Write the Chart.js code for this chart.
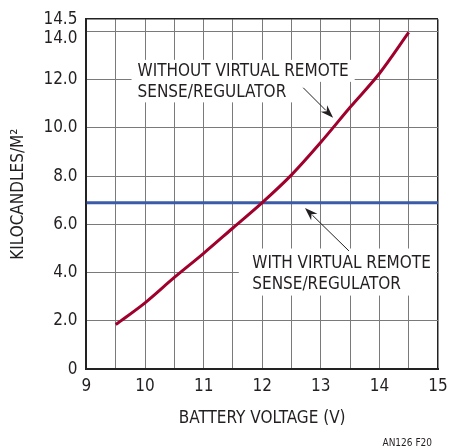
<!DOCTYPE html>
<html>
<head>
<meta charset="utf-8">
<script src="https://cdn.jsdelivr.net/npm/chart.js@4.4.1/dist/chart.umd.min.js"></script>
<style>
html,body{margin:0;padding:0;background:#fff;}
#wrap{width:450px;height:448px;position:relative;}
</style>
</head>
<body>
<div id="wrap"><canvas id="c" width="450" height="448"></canvas></div>
<script>
// ---- data ----
const voltage = [9.5, 10, 10.5, 11, 11.5, 12, 12.5, 13, 13.5, 14, 14.5];
const withoutRegulator = [1.85, 2.75, 3.8, 4.8, 5.85, 6.9, 8.05, 9.4, 10.85, 12.25, 13.95];
const regulatedVoltage = [9, 15];
const withRegulator = [6.9, 6.9];
const yTicks = [0, 2, 4, 6, 8, 10, 12, 14, 14.5];
const xTicks = [9, 10, 11, 12, 13, 14, 15];

const FONT = '"Liberation Sans Narrow", "DejaVu Sans Condensed", "Liberation Sans", sans-serif';
const FS = 17;
const TXT = '#231f20';

const annotations = [
  { lines: ['WITHOUT VIRTUAL REMOTE', 'SENSE/REGULATOR'], x: 9.872, y: [12.36, 11.51],
    arrow: { from: [12.70, 11.66], to: [13.21, 10.42] } },
  { lines: ['WITH VIRTUAL REMOTE', 'SENSE/REGULATOR'], x: 11.83, y: [4.42, 3.55],
    box: [11.6, 15, 5.0, 3.05],
    arrow: { from: [13.48, 4.9], to: [12.73, 6.68] } }
];

const annotPlugin = {
  id: 'annot',
  beforeDatasetsDraw(chart) {
    const ctx = chart.ctx, xs = chart.scales.x, ys = chart.scales.y;
    ctx.save();
    ctx.font = FS + 'px ' + FONT;
    ctx.textBaseline = 'middle';
    annotations.forEach(a => {
      const x0 = xs.getPixelForValue(a.x);
      ctx.fillStyle = '#fff';
      if (a.box) {
        const l = xs.getPixelForValue(a.box[0]), r = xs.getPixelForValue(a.box[1]);
        const t = ys.getPixelForValue(a.box[2]), b = ys.getPixelForValue(a.box[3]);
        ctx.fillRect(l, t, r - l - 1.5, b - t);
      } else {
        a.lines.forEach((ln, i) => {
          const yy = ys.getPixelForValue(a.y[i]);
          const w = ctx.measureText(ln).width;
          ctx.fillRect(x0 - 6, yy - 11, w + 12, 22);
        });
      }
      ctx.fillStyle = TXT;
      a.lines.forEach((ln, i) => {
        ctx.fillText(ln, x0, ys.getPixelForValue(a.y[i]) + 1);
      });
      // arrow
      const fx = xs.getPixelForValue(a.arrow.from[0]), fy = ys.getPixelForValue(a.arrow.from[1]);
      const tx = xs.getPixelForValue(a.arrow.to[0]), ty = ys.getPixelForValue(a.arrow.to[1]);
      const ang = Math.atan2(ty - fy, tx - fx);
      const hl = 13, hw = 4.5;
      ctx.strokeStyle = TXT; ctx.lineWidth = 1;
      ctx.beginPath(); ctx.moveTo(fx, fy);
      ctx.lineTo(tx - Math.cos(ang) * hl * 0.8, ty - Math.sin(ang) * hl * 0.8); ctx.stroke();
      ctx.beginPath();
      ctx.moveTo(tx, ty);
      ctx.lineTo(tx - Math.cos(ang) * hl - Math.sin(ang) * hw, ty - Math.sin(ang) * hl + Math.cos(ang) * hw);
      ctx.lineTo(tx - Math.cos(ang) * hl * 0.7, ty - Math.sin(ang) * hl * 0.7);
      ctx.lineTo(tx - Math.cos(ang) * hl + Math.sin(ang) * hw, ty - Math.sin(ang) * hl - Math.cos(ang) * hw);
      ctx.closePath(); ctx.fillStyle = TXT; ctx.fill();
    });
    ctx.restore();
  },
  afterDraw(chart) {
    const ctx = chart.ctx;
    ctx.save();
    ctx.font = '10px ' + FONT;
    ctx.fillStyle = TXT;
    ctx.textAlign = 'right';
    ctx.textBaseline = 'alphabetic';
    ctx.fillText('AN126 F20', 432, 446);
    ctx.restore();
  }
};

new Chart(document.getElementById('c'), {
  type: 'line',
  data: {
    datasets: [
      { label: 'Without', data: voltage.map((v, i) => ({ x: v, y: withoutRegulator[i] })),
        borderColor: '#a0002c', borderWidth: 3, pointRadius: 0, cubicInterpolationMode: 'monotone', fill: false },
      { label: 'With', data: regulatedVoltage.map((v, i) => ({ x: v, y: withRegulator[i] })),
        borderColor: '#3b5ba9', borderWidth: 3, pointRadius: 0, fill: false }
    ]
  },
  options: {
    responsive: false,
    animation: false,
    layout: { padding: { top: 10, right: 12, left: 8, bottom: 19 } },
    plugins: { legend: { display: false }, tooltip: { enabled: false } },
    scales: {
      x: {
        type: 'linear', min: 9, max: 15,
        afterBuildTicks: s => { const t = []; for (let v = 9; v <= 15.001; v += 0.5) t.push({ value: v }); s.ticks = t; },
        afterFit: s => { s.paddingRight = 0; },
        ticks: {
          autoSkip: false, maxRotation: 0, padding: 7, color: TXT,
          font: { family: FONT, size: FS },
          callback: v => xTicks.includes(v) ? String(v) : ''
        },
        grid: { color: c => (c.tick && c.tick.value === 15) ? '#222' : '#7a7a7a', lineWidth: c => (c.tick && c.tick.value === 15) ? 1.5 : 1, drawTicks: false },
        border: { color: '#222', width: 2 },
        title: { display: true, text: 'BATTERY VOLTAGE (V)', color: TXT, font: { family: FONT, size: FS }, padding: { top: 5, bottom: 0 } }
      },
      y: {
        type: 'linear', min: 0, max: 14.5,
        afterBuildTicks: s => { s.ticks = yTicks.map(v => ({ value: v })); },
        ticks: {
          autoSkip: false, padding: 9, color: TXT,
          font: c => ({ family: FONT, size: FS, lineHeight: (c.tick && c.tick.value === 14) ? '14px' : 1.2 }),
          callback: v => v === 0 ? '0' : (v === 14 ? ['', v.toFixed(1)] : v.toFixed(1))
        },
        grid: { color: c => (c.tick && c.tick.value === 14.5) ? '#222' : '#7a7a7a', lineWidth: c => (c.tick && c.tick.value === 14.5) ? 1.5 : 1, drawTicks: false },
        border: { color: '#222', width: 2 },
        title: { display: true, text: 'KILOCANDLES/M²', color: TXT, font: { family: FONT, size: FS }, padding: { top: 0, bottom: 6 } }
      }
    }
  },
  plugins: [annotPlugin]
});
</script>
</body>
</html>
